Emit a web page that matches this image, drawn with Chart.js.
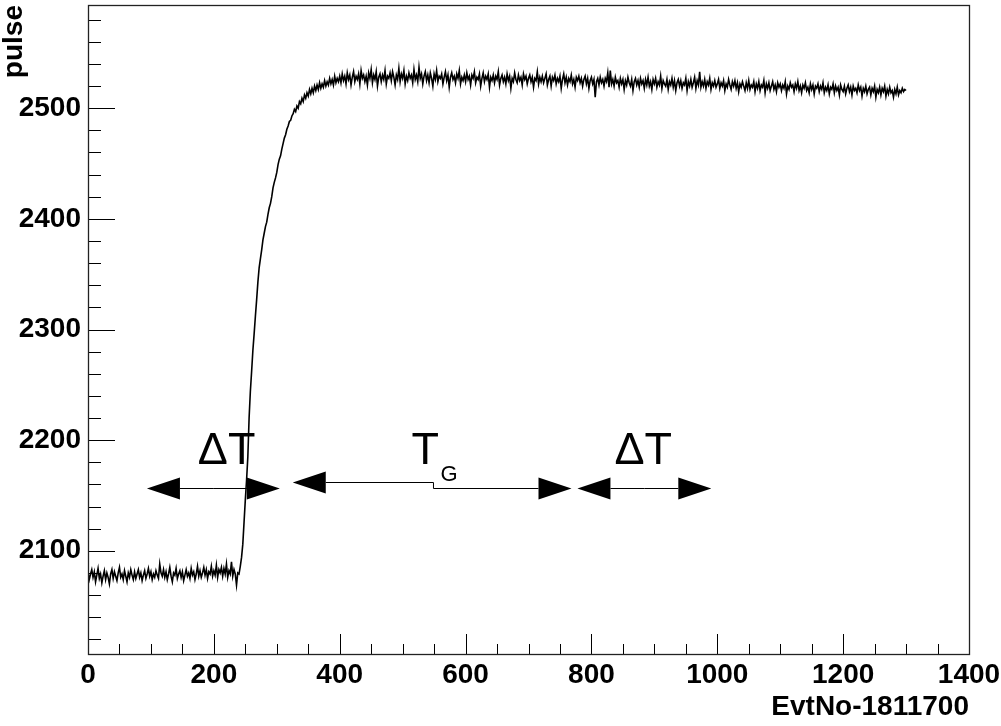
<!DOCTYPE html>
<html lang="en">
<head>
<meta charset="UTF-8">
<title>pulse</title>
<script src="https://cdn.jsdelivr.net/npm/chart.js"></script>
<style>
  html, body { margin: 0; padding: 0; background: #fff; }
</style>
</head>
<body>
<canvas id="pulseChart" width="1001" height="726"></canvas>
<script>
// samples are stored every evtStep events, starting at evtStart
const evtStart = 0;
const evtStep = 2;

// baseline before the pulse (EvtNo 0 .. 240)
const pulseBase = [
  2080, 2074, 2079, 2083, 2076, 2081, 2072, 2078, 2084, 2075,
  2079, 2071, 2077, 2082, 2074, 2080, 2076, 2070, 2079, 2083,
  2075, 2081, 2077, 2073, 2080, 2085, 2076, 2079, 2074, 2082,
  2077, 2072, 2080, 2076, 2083, 2078, 2074, 2081, 2075, 2079,
  2083, 2076, 2080, 2073, 2078, 2082, 2075, 2079, 2084, 2077,
  2081, 2074, 2079, 2076, 2082, 2078, 2075, 2088, 2080, 2077,
  2083, 2076, 2081, 2074, 2079, 2085, 2077, 2072, 2080, 2078,
  2084, 2075, 2079, 2082, 2076, 2081, 2073, 2078, 2083, 2077,
  2080, 2075, 2084, 2078, 2081, 2074, 2079, 2086, 2077, 2082,
  2076, 2080, 2085, 2078, 2083, 2075, 2081, 2079, 2086, 2077,
  2082, 2078, 2087, 2076, 2083, 2080, 2085, 2077, 2084, 2079,
  2088, 2076, 2082, 2079, 2090, 2077, 2083, 2079, 2069, 2080,
  2079
];

// rising edge (EvtNo 242 .. 400)
const pulseRise = [
  2086, 2094, 2106, 2126, 2146, 2164, 2185, 2220, 2244, 2262,
  2281, 2296, 2312, 2327, 2343, 2356, 2364, 2372, 2381, 2387,
  2393, 2397, 2404, 2410, 2414, 2420, 2428, 2433, 2437, 2442,
  2449, 2454, 2457, 2463, 2468, 2473, 2476, 2481, 2484, 2488,
  2489, 2493, 2495, 2499, 2497, 2502, 2500, 2506, 2504, 2509,
  2506, 2512, 2509, 2514, 2511, 2517, 2513, 2518, 2514, 2520,
  2516, 2521, 2517, 2523, 2518, 2522, 2519, 2525, 2520, 2524,
  2521, 2527, 2522, 2526, 2521, 2529, 2523, 2527, 2524, 2529
];

// plateau (EvtNo 402 .. 1300)
const pulsePlateau = [
  2523, 2531, 2525, 2529, 2522, 2532, 2526, 2530, 2521, 2528,
  2533, 2524, 2529, 2526, 2531, 2522, 2534, 2527, 2530, 2524,
  2529, 2521, 2532, 2527, 2535, 2523, 2530, 2526, 2533, 2520,
  2528, 2531, 2524, 2530, 2526, 2534, 2522, 2529, 2527, 2532,
  2525, 2533, 2528, 2521, 2530, 2526, 2536, 2524, 2531, 2527,
  2534, 2522, 2529, 2525, 2532, 2527, 2530, 2523, 2535, 2526,
  2530, 2524, 2537, 2527, 2531, 2522, 2529, 2533, 2525, 2530,
  2523, 2532, 2527, 2520, 2531, 2526, 2534, 2524, 2529, 2527,
  2531, 2522, 2528, 2533, 2525, 2530, 2519, 2528, 2532, 2526,
  2529, 2523, 2531, 2527, 2534, 2522, 2528, 2525, 2530, 2524,
  2532, 2526, 2529, 2521, 2530, 2527, 2533, 2523, 2528, 2526,
  2531, 2520, 2527, 2532, 2524, 2529, 2526, 2531, 2519, 2528,
  2525, 2530, 2523, 2529, 2526, 2533, 2521, 2527, 2530, 2524,
  2528, 2522, 2531, 2525, 2529, 2518, 2527, 2524, 2532, 2526,
  2523, 2530, 2525, 2528, 2521, 2531, 2526, 2529, 2522, 2527,
  2530, 2524, 2528, 2519, 2527, 2525, 2533, 2522, 2528, 2524,
  2529, 2523, 2527, 2531, 2521, 2526, 2529, 2520, 2528, 2525,
  2530, 2522, 2527, 2524, 2529, 2518, 2526, 2531, 2523, 2528,
  2521, 2527, 2524, 2530, 2522, 2526, 2519, 2528, 2525, 2529,
  2523, 2527, 2520, 2526, 2529, 2522, 2527, 2518, 2525, 2528,
  2522, 2526, 2510, 2524, 2527, 2521, 2528, 2523, 2526, 2520,
  2527, 2524, 2532, 2519, 2534, 2522, 2526, 2520, 2528, 2523,
  2525, 2519, 2527, 2522, 2526, 2517, 2525, 2521, 2528, 2523,
  2520, 2526, 2516, 2524, 2527, 2521, 2525, 2519, 2527, 2522,
  2525, 2518, 2526, 2521, 2528, 2520, 2524, 2517, 2526, 2522,
  2527, 2519, 2524, 2521, 2529, 2518, 2525, 2522, 2520, 2526,
  2517, 2524, 2521, 2527, 2519, 2525, 2516, 2523, 2526, 2520,
  2525, 2518, 2523, 2521, 2527, 2516, 2524, 2520, 2526, 2519,
  2523, 2528, 2518, 2525, 2521, 2533, 2519, 2524, 2520, 2526,
  2518, 2524, 2521, 2527, 2517, 2523, 2520, 2525, 2519, 2522,
  2526, 2518, 2523, 2520, 2525, 2516, 2522, 2519, 2526, 2521,
  2517, 2524, 2520, 2525, 2518, 2523, 2515, 2522, 2519, 2524,
  2520, 2516, 2523, 2518, 2525, 2517, 2521, 2519, 2524, 2515,
  2522, 2518, 2524, 2516, 2521, 2519, 2525, 2514, 2522, 2518,
  2523, 2516, 2520, 2524, 2517, 2521, 2515, 2523, 2519, 2522,
  2516, 2521, 2518, 2524, 2513, 2520, 2517, 2523, 2519, 2521,
  2515, 2522, 2518, 2524, 2516, 2520, 2514, 2521, 2518, 2523,
  2516, 2519, 2514, 2522, 2517, 2521, 2513, 2520, 2518, 2522,
  2515, 2520, 2517, 2523, 2514, 2519, 2516, 2521, 2513, 2519,
  2517, 2522, 2514, 2520, 2516, 2519, 2512, 2521, 2517, 2515,
  2520, 2513, 2518, 2521, 2515, 2519, 2512, 2520, 2516, 2518,
  2514, 2521, 2516, 2519, 2511, 2518, 2515, 2520, 2513, 2517,
  2519, 2512, 2518, 2515, 2520, 2510, 2517, 2514, 2519, 2512,
  2518, 2515, 2520, 2511, 2517, 2513, 2519, 2514, 2516, 2510,
  2517, 2513, 2519, 2512, 2516, 2514, 2518, 2515, 2517, 2516
];

const xTicks = [0, 200, 400, 600, 800, 1000, 1200, 1400];
const yTicks = [2100, 2200, 2300, 2400, 2500];
const xRange = [0, 1400];
const yRange = [2006.7, 2593.3];

// double arrows marking the gate windows (y at left end, y at right end, x of the kink)
const arrows = [
  { from: 93.7, to: 304.8, yFrom: 2157.0, yTo: 2156.4, kink: 200 },
  { from: 325.4, to: 768.3, yFrom: 2162.0, yTo: 2156.4, kink: 549 },
  { from: 777.8, to: 990.5, yFrom: 2157.0, yTo: 2156.4, kink: 884 }
];
const labels = [
  { text: '\u0394T', x: 174.6, y: 2178.3, size: 45 },
  { text: 'T', x: 514, y: 2178.3, size: 45 },
  { text: 'G', x: 560, y: 2163, size: 22 },
  { text: '\u0394T', x: 836.5, y: 2178.3, size: 45 }
];

const samples = pulseBase.concat(pulseRise, pulsePlateau)
  .map((v, i) => ({ x: evtStart + i * evtStep, y: v }));

const FONT = '"Liberation Sans", Arial, Helvetica, sans-serif';

// ROOT style frame: box, inward ticks on left/bottom, arrows and labels
const rootFrame = {
  id: 'rootFrame',
  afterDatasetsDraw(chart) {
    const { ctx, chartArea: a, scales: { x, y } } = chart;
    ctx.save();
    ctx.strokeStyle = '#000';
    ctx.lineWidth = 1;
    ctx.beginPath();
    for (let v = 2020; v <= 2580; v += 20) {
      const py = Math.round(y.getPixelForValue(v)) + 0.5;
      const len = v % 100 === 0 ? 27 : 13;
      ctx.moveTo(a.left, py);
      ctx.lineTo(a.left + len, py);
    }
    for (let v = 0; v <= 1400; v += 50) {
      const px = Math.round(x.getPixelForValue(v)) + 0.5;
      const len = v % 200 === 0 ? 20 : 10;
      ctx.moveTo(px, a.bottom);
      ctx.lineTo(px, a.bottom - len);
    }
    ctx.stroke();

    ctx.strokeStyle = '#222';
    ctx.lineWidth = 1.3;
    ctx.strokeRect(Math.round(a.left) + 0.5, Math.round(a.top) + 0.5,
      Math.round(a.right - a.left), Math.round(a.bottom - a.top));

    // arrows
    const headLen = 33, headHalf = 11;
    ctx.fillStyle = '#000';
    ctx.strokeStyle = '#000';
    ctx.lineWidth = 1;
    arrows.forEach(ar => {
      const x1 = x.getPixelForValue(ar.from), x2 = x.getPixelForValue(ar.to);
      const xk = x.getPixelForValue(ar.kink);
      const y1 = Math.round(y.getPixelForValue(ar.yFrom)) + 0.5;
      const y2 = Math.round(y.getPixelForValue(ar.yTo)) + 0.5;
      ctx.beginPath();
      ctx.moveTo(x1 + headLen, y1);
      ctx.lineTo(xk, y1);
      ctx.lineTo(xk, y2);
      ctx.lineTo(x2 - headLen, y2);
      ctx.stroke();
      ctx.beginPath();
      ctx.moveTo(x1, y1);
      ctx.lineTo(x1 + headLen, y1 - headHalf);
      ctx.lineTo(x1 + headLen, y1 + headHalf);
      ctx.closePath();
      ctx.fill();
      ctx.beginPath();
      ctx.moveTo(x2, y2);
      ctx.lineTo(x2 - headLen, y2 - headHalf);
      ctx.lineTo(x2 - headLen, y2 + headHalf);
      ctx.closePath();
      ctx.fill();
    });

    ctx.textAlign = 'left';
    ctx.textBaseline = 'alphabetic';
    labels.forEach(l => {
      ctx.font = l.size + 'px ' + FONT;
      ctx.fillText(l.text, x.getPixelForValue(l.x), y.getPixelForValue(l.y));
    });
    ctx.restore();
  }
};

new Chart(document.getElementById('pulseChart'), {
  type: 'line',
  data: {
    datasets: [{
      data: samples,
      borderColor: '#000',
      borderWidth: 1.6,
      pointRadius: 0,
      tension: 0,
      fill: false
    }]
  },
  options: {
    responsive: false,
    animation: false,
    devicePixelRatio: 1,
    layout: { autoPadding: false, padding: { left: 0, top: 5, right: 32, bottom: 0 } },
    plugins: { legend: { display: false }, tooltip: { enabled: false } },
    scales: {
      x: {
        type: 'linear',
        min: xRange[0],
        max: xRange[1],
        grid: { display: false, drawTicks: false },
        border: { display: false },
        afterBuildTicks: s => { s.ticks = xTicks.map(v => ({ value: v })); },
        afterFit: s => { s.height = 72; s.paddingLeft = 0; s.paddingRight = 0; },
        ticks: {
          padding: 4,
          color: '#000',
          maxRotation: 0,
          callback: v => String(v),
          font: { family: FONT, size: 28, weight: 'bold' }
        },
        title: {
          display: true,
          text: 'EvtNo-1811700',
          align: 'end',
          color: '#000',
          padding: { top: 0, bottom: 4.5 },
          font: { family: FONT, size: 28, weight: 'bold', lineHeight: 1 }
        }
      },
      y: {
        type: 'linear',
        min: yRange[0],
        max: yRange[1],
        grid: { display: false, drawTicks: false },
        border: { display: false },
        afterBuildTicks: s => { s.ticks = yTicks.map(v => ({ value: v })); },
        afterFit: s => { s.width = 88; s.paddingTop = 0; s.paddingBottom = 0; },
        ticks: {
          padding: 7,
          color: '#000',
          callback: v => String(v),
          font: { family: FONT, size: 28, weight: 'bold' }
        },
        title: {
          display: true,
          text: 'pulse',
          align: 'end',
          color: '#000',
          padding: { top: 0, bottom: 0 },
          font: { family: FONT, size: 28, weight: 'bold', lineHeight: 1 }
        }
      }
    }
  },
  plugins: [rootFrame]
});
</script>
</body>
</html>
